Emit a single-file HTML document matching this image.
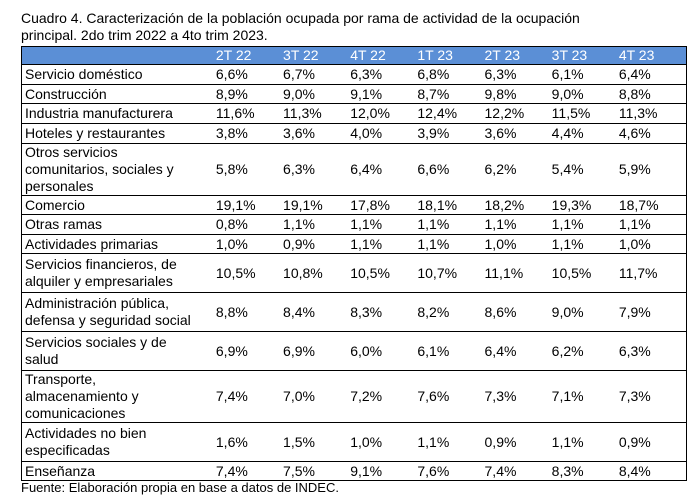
<!DOCTYPE html>
<html><head><meta charset="utf-8"><style>
body{margin:0;width:697px;height:498px;background:#fff;font-family:"Liberation Sans",sans-serif;color:#000;position:relative;overflow:hidden}
.t{position:absolute;left:21px;top:10px;font-size:14px;line-height:17px}
table{position:absolute;left:21px;top:46px;width:666px;border-collapse:collapse;font-size:14px;line-height:17px}
td{padding:0;border-top:1.5px solid #000;vertical-align:middle}
table{border:1.5px solid #000}
td:first-child{padding-left:3px;width:192px}
td:not(:first-child){width:67.5px}
tr.h td{background:#5b8fd6;color:#fff;height:17px;border-top:none}
.f{position:absolute;left:21px;top:480px;font-size:13px}
</style></head><body>
<div class="t">Cuadro 4. Caracterización de la población ocupada por rama de actividad de la ocupación<br>principal. 2do trim 2022 a 4to trim 2023.</div>
<table>
<tr class="h"><td></td><td>2T 22</td><td>3T 22</td><td>4T 22</td><td>1T 23</td><td>2T 23</td><td>3T 23</td><td>4T 23</td></tr>
<tr style="height:20px"><td>Servicio doméstico</td><td>6,6%</td><td>6,7%</td><td>6,3%</td><td>6,8%</td><td>6,3%</td><td>6,1%</td><td>6,4%</td></tr>
<tr style="height:19px"><td>Construcción</td><td>8,9%</td><td>9,0%</td><td>9,1%</td><td>8,7%</td><td>9,8%</td><td>9,0%</td><td>8,8%</td></tr>
<tr style="height:20px"><td>Industria manufacturera</td><td>11,6%</td><td>11,3%</td><td>12,0%</td><td>12,4%</td><td>12,2%</td><td>11,5%</td><td>11,3%</td></tr>
<tr style="height:20px"><td>Hoteles y restaurantes</td><td>3,8%</td><td>3,6%</td><td>4,0%</td><td>3,9%</td><td>3,6%</td><td>4,4%</td><td>4,6%</td></tr>
<tr style="height:51px"><td>Otros servicios<br>comunitarios, sociales y<br>personales</td><td>5,8%</td><td>6,3%</td><td>6,4%</td><td>6,6%</td><td>6,2%</td><td>5,4%</td><td>5,9%</td></tr>
<tr style="height:19px"><td>Comercio</td><td>19,1%</td><td>19,1%</td><td>17,8%</td><td>18,1%</td><td>18,2%</td><td>19,3%</td><td>18,7%</td></tr>
<tr style="height:20px"><td>Otras ramas</td><td>0,8%</td><td>1,1%</td><td>1,1%</td><td>1,1%</td><td>1,1%</td><td>1,1%</td><td>1,1%</td></tr>
<tr style="height:19px"><td>Actividades primarias</td><td>1,0%</td><td>0,9%</td><td>1,1%</td><td>1,1%</td><td>1,0%</td><td>1,1%</td><td>1,0%</td></tr>
<tr style="height:39px"><td>Servicios financieros, de<br>alquiler y empresariales</td><td>10,5%</td><td>10,8%</td><td>10,5%</td><td>10,7%</td><td>11,1%</td><td>10,5%</td><td>11,7%</td></tr>
<tr style="height:39px"><td>Administración pública,<br>defensa y seguridad social</td><td>8,8%</td><td>8,4%</td><td>8,3%</td><td>8,2%</td><td>8,6%</td><td>9,0%</td><td>7,9%</td></tr>
<tr style="height:39px"><td>Servicios sociales y de<br>salud</td><td>6,9%</td><td>6,9%</td><td>6,0%</td><td>6,1%</td><td>6,4%</td><td>6,2%</td><td>6,3%</td></tr>
<tr style="height:51px"><td>Transporte,<br>almacenamiento y<br>comunicaciones</td><td>7,4%</td><td>7,0%</td><td>7,2%</td><td>7,6%</td><td>7,3%</td><td>7,1%</td><td>7,3%</td></tr>
<tr style="height:39px"><td>Actividades no bien<br>especificadas</td><td>1,6%</td><td>1,5%</td><td>1,0%</td><td>1,1%</td><td>0,9%</td><td>1,1%</td><td>0,9%</td></tr>
<tr style="height:19px"><td>Enseñanza</td><td>7,4%</td><td>7,5%</td><td>9,1%</td><td>7,6%</td><td>7,4%</td><td>8,3%</td><td>8,4%</td></tr>
</table>
<div class="f">Fuente: Elaboración propia en base a datos de INDEC.</div>
</body></html>
